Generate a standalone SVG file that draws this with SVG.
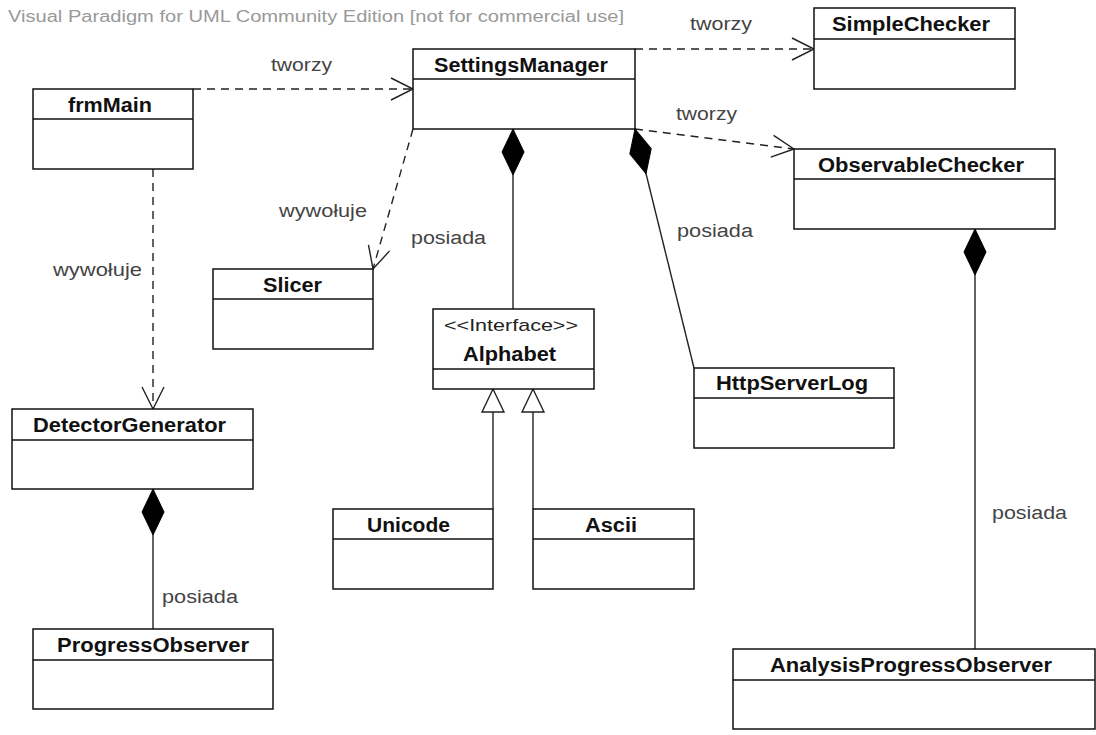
<svg xmlns="http://www.w3.org/2000/svg" width="1096" height="735" viewBox="0 0 1096 735">
<style>
.box{fill:#fff;stroke:#111;stroke-width:1.5}
.sep{stroke:#111;stroke-width:1.4}
.name{font-family:"Liberation Sans",Arial,sans-serif;font-weight:bold;font-size:20px;fill:#111}
.stereo{font-family:"Liberation Sans",Arial,sans-serif;font-size:17px;fill:#222}
.lbl{font-family:"Liberation Sans",Arial,sans-serif;font-size:18px;fill:#444}
.title{font-family:"Liberation Sans",Arial,sans-serif;font-size:16px;fill:#999}
.dep{fill:none;stroke:#222;stroke-width:1.4;stroke-dasharray:8 6;marker-end:url(#open)}
.comp{fill:none;stroke:#222;stroke-width:1.4;marker-start:url(#diamond)}
.gen{fill:none;stroke:#222;stroke-width:1.4;marker-end:url(#tri)}
</style>
<defs>
<marker id="open" markerUnits="userSpaceOnUse" markerWidth="30" markerHeight="30" viewBox="-25 -15 30 30" refX="0" refY="0" orient="auto" overflow="visible">
<path d="M-22,-11 L0,0 L-22,11" fill="none" stroke="#222" stroke-width="1.4"/>
</marker>
<marker id="diamond" markerUnits="userSpaceOnUse" markerWidth="50" markerHeight="30" viewBox="-2 -15 50 30" refX="0" refY="0" orient="auto" overflow="visible">
<path d="M0,0 L23,-11 L46,0 L23,11 Z" fill="#000" stroke="#000" stroke-width="1"/>
</marker>
<marker id="tri" markerUnits="userSpaceOnUse" markerWidth="30" markerHeight="30" viewBox="-25 -15 30 30" refX="0" refY="0" orient="auto" overflow="visible">
<path d="M0,0 L-23,-11 L-23,11 Z" fill="#fff" stroke="#222" stroke-width="1.4"/>
</marker>
</defs>
<rect width="1096" height="735" fill="#fff"/>
<text class="title" x="8" y="22" textLength="616" lengthAdjust="spacingAndGlyphs">Visual Paradigm for UML Community Edition [not for commercial use]</text>

<g id="connectors">
<path class="dep" d="M193,89 L413,89"/>
<path class="dep" d="M153,169 L153,409"/>
<path class="dep" d="M413,129 L373,269"/>
<path class="dep" d="M635,49 L814,49"/>
<path class="dep" d="M635,129 L794,149"/>
<path class="comp" d="M513,129 L513,309"/>
<path class="comp" d="M635,129 L694,368"/>
<path class="comp" d="M975,229 L975,649"/>
<path class="comp" d="M153,489 L153,629"/>
<path class="gen" d="M493,509 L493,389"/>
<path class="gen" d="M533,509 L533,389"/>
<text class="lbl" x="271" y="71" textLength="61" lengthAdjust="spacingAndGlyphs">tworzy</text>
<text class="lbl" x="690" y="30" textLength="62" lengthAdjust="spacingAndGlyphs">tworzy</text>
<text class="lbl" x="676" y="120" textLength="61" lengthAdjust="spacingAndGlyphs">tworzy</text>
<text class="lbl" x="53" y="276" textLength="89" lengthAdjust="spacingAndGlyphs">wywołuje</text>
<text class="lbl" x="279" y="217" textLength="88" lengthAdjust="spacingAndGlyphs">wywołuje</text>
<text class="lbl" x="411" y="244" textLength="75" lengthAdjust="spacingAndGlyphs">posiada</text>
<text class="lbl" x="677" y="237" textLength="76" lengthAdjust="spacingAndGlyphs">posiada</text>
<text class="lbl" x="162" y="603" textLength="76" lengthAdjust="spacingAndGlyphs">posiada</text>
<text class="lbl" x="992" y="519" textLength="75" lengthAdjust="spacingAndGlyphs">posiada</text>
</g>

<g id="frmMain">
<rect class="box" x="33" y="89" width="160" height="80"/>
<line class="sep" x1="33" y1="119" x2="193" y2="119"/>
<text class="name" x="68" y="112" textLength="84" lengthAdjust="spacingAndGlyphs">frmMain</text>
</g>
<g id="SettingsManager">
<rect class="box" x="413" y="49" width="222" height="80"/>
<line class="sep" x1="413" y1="79" x2="635" y2="79"/>
<text class="name" x="434" y="72" textLength="174" lengthAdjust="spacingAndGlyphs">SettingsManager</text>
</g>
<g id="SimpleChecker">
<rect class="box" x="814" y="8" width="201" height="81"/>
<line class="sep" x1="814" y1="39" x2="1015" y2="39"/>
<text class="name" x="832" y="31" textLength="158" lengthAdjust="spacingAndGlyphs">SimpleChecker</text>
</g>
<g id="ObservableChecker">
<rect class="box" x="794" y="149" width="261" height="80"/>
<line class="sep" x1="794" y1="179" x2="1055" y2="179"/>
<text class="name" x="818" y="172" textLength="206" lengthAdjust="spacingAndGlyphs">ObservableChecker</text>
</g>
<g id="Slicer">
<rect class="box" x="213" y="269" width="160" height="80"/>
<line class="sep" x1="213" y1="299" x2="373" y2="299"/>
<text class="name" x="263" y="292" textLength="59" lengthAdjust="spacingAndGlyphs">Slicer</text>
</g>
<g id="Alphabet">
<rect class="box" x="433" y="309" width="161" height="80"/>
<line class="sep" x1="433" y1="369" x2="594" y2="369"/>
<text class="stereo" x="444" y="331" textLength="134" lengthAdjust="spacingAndGlyphs">&lt;&lt;Interface&gt;&gt;</text>
<text class="name" x="463" y="361" textLength="93" lengthAdjust="spacingAndGlyphs">Alphabet</text>
</g>
<g id="HttpServerLog">
<rect class="box" x="694" y="368" width="200" height="80"/>
<line class="sep" x1="694" y1="398" x2="894" y2="398"/>
<text class="name" x="716" y="390" textLength="152" lengthAdjust="spacingAndGlyphs">HttpServerLog</text>
</g>
<g id="DetectorGenerator">
<rect class="box" x="12" y="409" width="241" height="80"/>
<line class="sep" x1="12" y1="440" x2="253" y2="440"/>
<text class="name" x="33" y="432" textLength="193" lengthAdjust="spacingAndGlyphs">DetectorGenerator</text>
</g>
<g id="Unicode">
<rect class="box" x="333" y="509" width="160" height="80"/>
<line class="sep" x1="333" y1="539" x2="493" y2="539"/>
<text class="name" x="367" y="532" textLength="83" lengthAdjust="spacingAndGlyphs">Unicode</text>
</g>
<g id="Ascii">
<rect class="box" x="533" y="509" width="161" height="80"/>
<line class="sep" x1="533" y1="539" x2="694" y2="539"/>
<text class="name" x="585" y="532" textLength="52" lengthAdjust="spacingAndGlyphs">Ascii</text>
</g>
<g id="ProgressObserver">
<rect class="box" x="33" y="629" width="240" height="80"/>
<line class="sep" x1="33" y1="660" x2="273" y2="660"/>
<text class="name" x="57" y="652" textLength="192" lengthAdjust="spacingAndGlyphs">ProgressObserver</text>
</g>
<g id="AnalysisProgressObserver">
<rect class="box" x="733" y="649" width="362" height="80"/>
<line class="sep" x1="733" y1="680" x2="1095" y2="680"/>
<text class="name" x="770" y="672" textLength="282" lengthAdjust="spacingAndGlyphs">AnalysisProgressObserver</text>
</g>
</svg>
